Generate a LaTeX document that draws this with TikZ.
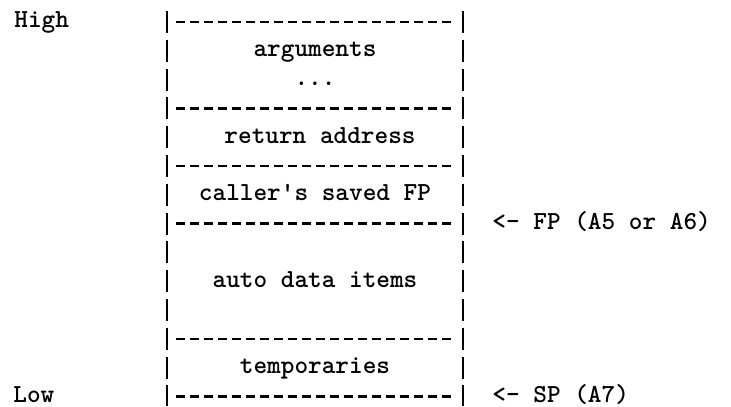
\documentclass[tikz,border=0pt]{standalone}
\usepackage{fontspec}
\tikzset{
	bar/.style={line width=1.2pt, dash pattern=on 11pt off 3.4pt},
	sep/.style={line width=1.2pt, dash pattern=on 4.5pt off 2.5pt},
	txt/.style={font=\ttfamily\bfseries\fontsize{13}{14}\selectfont, inner sep=0pt, anchor=base},
	side/.style={txt, anchor=base west},
}
\begin{document}
\begin{tikzpicture}[x=0.5pt, y=-0.5pt]
			%%%%% START %%%%%
			\useasboundingbox (0,0) rectangle (731,406);
			
			% frame
			\draw[bar] (167,11) -- (167,406);
			\draw[bar] (463,11) -- (463,406);
			\foreach \r in {0,3,5,7,11,13}
				\draw[sep] (176,{22+28.8*\r}) -- (456,{22+28.8*\r});
			
			% slots
			\node[txt] (args) at (315,{28+28.8*1}) {arguments};
			\node[txt] (dots) at (315,{28+28.8*2}) {...};
			\node[txt] (ret) at (320,{28+28.8*4}) {return address};
			\node[txt] (savedfp) at (315,{28+28.8*6}) {caller's saved FP};
			\node[txt] (auto) at (315,{28+28.8*9}) {auto data items};
			\node[txt] (temps) at (315,{28+28.8*12}) {temporaries};
			
			% labels
			\node[side] (high) at (14,28) {High};
			\node[side] (low) at (13,{28+28.8*13}) {Low};
			\node[side] (fplabel) at (492,{28+28.8*7}) {<- FP (A5 or A6)};
			\node[side] (splabel) at (492,{28+28.8*13}) {<- SP (A7)};
			
			%%%%% END %%%%%
\end{tikzpicture}
\end{document}
